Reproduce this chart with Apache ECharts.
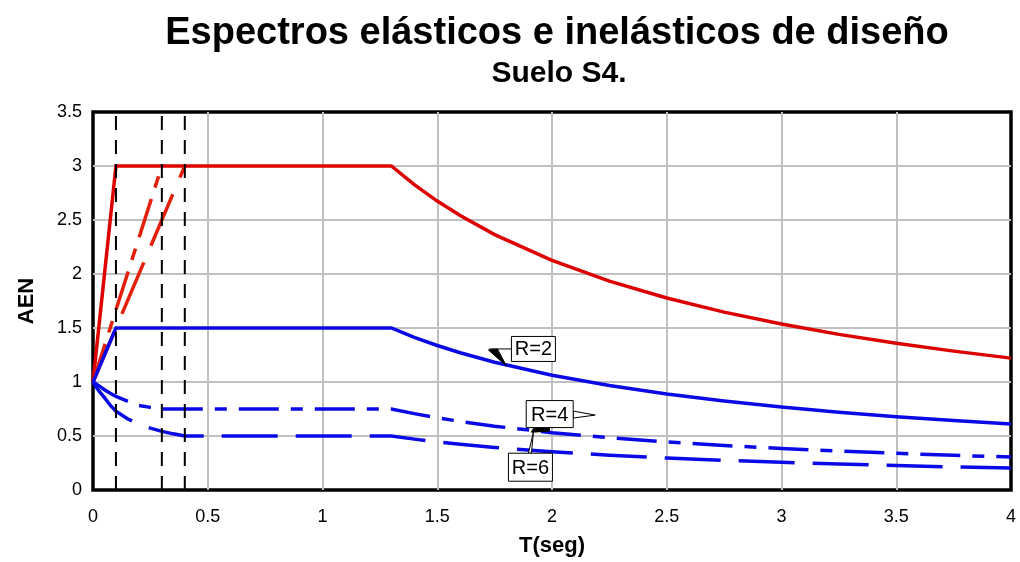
<!DOCTYPE html>
<html>
<head>
<meta charset="utf-8">
<script src="https://cdn.jsdelivr.net/npm/echarts@6/dist/echarts.min.js"></script>
<style>
  html, body { margin: 0; padding: 0; background: #ffffff; }
  #chart { width: 1020px; height: 562px; }
</style>
</head>
<body>
<div id="chart"></div>
<script>
// Ordinate ticks (AEN) and abscissa ticks (T in seconds)
const yTicks = [0, 0.5, 1, 1.5, 2, 2.5, 3, 3.5];
const xTicks = [0, 0.5, 1, 1.5, 2, 2.5, 3, 3.5, 4];

// Short-period limits drawn as vertical reference lines
const periodLimits = [0.1, 0.3, 0.4];

// Rising branches (T, AEN)
const elasticRiseT = [0, 0.1];
const elasticRise = [1, 3];
const elasticRiseT03 = [0, 0.3];
const elasticRise03 = [1, 3];
const elasticRiseT04 = [0, 0.4];
const elasticRise04 = [1, 3];
const r2RiseT = [0, 0.1];
const r2Rise = [1, 1.5];
const r4RiseT = [0, 0.025, 0.05, 0.075, 0.1, 0.15, 0.2, 0.25, 0.3];
const r4Rise = [1, 0.966, 0.928, 0.895, 0.866, 0.823, 0.782, 0.765, 0.75];
const r6RiseT = [0, 0.025, 0.05, 0.075, 0.1, 0.15, 0.2, 0.25, 0.3, 0.35, 0.4];
const r6Rise = [1, 0.92, 0.855, 0.785, 0.73, 0.66, 0.61, 0.573, 0.543, 0.52, 0.5];

// Descending branches, starting at T* = 1.3 s
const decayT = [1.3, 1.4, 1.5, 1.6, 1.75, 2, 2.25, 2.5, 2.75, 3, 3.25, 3.5, 3.75, 4];
const elasticDecay = [3, 2.827, 2.675, 2.541, 2.365, 2.126, 1.934, 1.778, 1.647, 1.537, 1.441, 1.358, 1.286, 1.221];
const r2Decay = [1.5, 1.414, 1.338, 1.271, 1.183, 1.063, 0.967, 0.889, 0.824, 0.768, 0.721, 0.679, 0.643, 0.61];
const r4Decay = [0.75, 0.707, 0.669, 0.635, 0.591, 0.531, 0.484, 0.445, 0.412, 0.384, 0.36, 0.34, 0.321, 0.305];
const r6Decay = [0.5, 0.471, 0.446, 0.424, 0.394, 0.354, 0.322, 0.296, 0.275, 0.256, 0.24, 0.226, 0.214, 0.203];

// Callout labels and the point each one sits at (data coordinates)
const calloutLabels = ['R=2', 'R=4', 'R=6'];
const calloutAnchors = [[1.919, 1.306], [1.99, 0.703], [1.906, 0.211]];

const FONT = "'Liberation Sans', Arial, Helvetica, sans-serif";
const BLUE = '#0a0ae6';
const RED = '#dd0000';
const RED_DASH = '#e4200a';

function zip(ts, vs) { return ts.map((t, i) => [t, vs[i]]); }

function lineSeries(name, data, color, type, width, z) {
  return {
    name: name, type: 'line', data: data, symbol: 'none', silent: true,
    animation: false, z: z || 3,
    lineStyle: { color: color, width: width, type: type, cap: 'butt', join: 'miter' }
  };
}

const series = [
  lineSeries('Elástico', zip(elasticRiseT, elasticRise).concat(zip(decayT, elasticDecay)), RED, 'solid', 3.5),
  lineSeries('Elástico T+=0.3', zip(elasticRiseT03, elasticRise03), RED_DASH, [40, 12, 12, 12], 3.5),
  lineSeries('Elástico T+=0.4', zip(elasticRiseT04, elasticRise04), RED_DASH, [56, 18], 3.5),
  lineSeries('R=2', zip(r2RiseT, r2Rise).concat(zip(decayT, r2Decay)), BLUE, 'solid', 3.5),
  lineSeries('R=4', zip(r4RiseT, r4Rise).concat(zip(decayT, r4Decay)), BLUE, [40, 12, 12, 12], 3.5),
  lineSeries('R=6', zip(r6RiseT, r6Rise).concat(zip(decayT, r6Decay)), BLUE, [56, 18], 3.5)
];
periodLimits.forEach(function (t) {
  series.push(lineSeries('T=' + t, [[t, yTicks[0]], [t, yTicks[yTicks.length - 1]]], '#000000', [14, 10], 2, 4));
});

const chart = echarts.init(document.getElementById('chart'), null, { renderer: 'canvas' });

const option = {
  backgroundColor: '#ffffff',
  animation: false,
  title: [
    {
      text: 'Espectros elásticos e inelásticos de diseño',
      left: 552, top: 10, textAlign: 'center',
      textStyle: { fontFamily: FONT, fontWeight: 'bold', fontSize: 38, color: '#000' }
    },
    {
      text: 'Suelo S4.',
      left: 554, top: 54, textAlign: 'center',
      textStyle: { fontFamily: FONT, fontWeight: 'bold', fontSize: 30, color: '#000' }
    }
  ],
  grid: {
    left: 93, top: 112, width: 918, height: 382,
    show: true, borderColor: '#000000', borderWidth: 3.5, backgroundColor: 'transparent'
  },
  xAxis: {
    type: 'value', min: xTicks[0], max: xTicks[xTicks.length - 1], interval: 0.5,
    name: 'T(seg)', nameLocation: 'middle', nameGap: 45,
    nameTextStyle: { fontFamily: FONT, fontWeight: 'bold', fontSize: 22, color: '#000' },
    axisLine: { show: false }, axisTick: { show: false },
    axisLabel: { margin: 18, fontFamily: FONT, fontSize: 18, color: '#000' },
    splitLine: { show: true, showMinLine: false, showMaxLine: false, lineStyle: { color: '#c0c0c0', width: 2 } }
  },
  yAxis: {
    type: 'value', min: yTicks[0], max: yTicks[yTicks.length - 1], interval: 0.5,
    name: 'AEN', nameLocation: 'middle', nameGap: 55,
    nameTextStyle: { fontFamily: FONT, fontWeight: 'bold', fontSize: 22, color: '#000' },
    axisLine: { show: false }, axisTick: { show: false },
    axisLabel: { margin: 11, fontFamily: FONT, fontSize: 18, color: '#000' },
    splitLine: { show: true, showMinLine: false, showMaxLine: false, lineStyle: { color: '#c0c0c0', width: 2 } }
  },
  series: series
};

chart.setOption(option);

// Callout boxes with their pointer wedges, placed from data anchors
function px(p) { return chart.convertToPixel({ gridIndex: 0 }, p); }
const boxSizes = [[44, 25], [47, 27], [44, 28]];
const graphics = [];
calloutAnchors.forEach(function (a, i) {
  const c = px(a);
  const w = boxSizes[i][0], h = boxSizes[i][1];
  const x0 = c[0] - w / 2, y0 = c[1] - h / 2;
  if (i === 0) {
    graphics.push({ type: 'line', z: 20, shape: { x1: x0 - 22, y1: c[1], x2: x0, y2: c[1] }, style: { stroke: '#000', lineWidth: 1 } });
    graphics.push({ type: 'polygon', z: 21, shape: { points: [[x0 - 23, c[1] + 1], [x0 - 14, c[1]], [x0 - 5, c[1] + 17]] }, style: { fill: '#000', stroke: '#000', lineWidth: 1 } });
  } else if (i === 1) {
    graphics.push({ type: 'polygon', z: 20, shape: { points: [[x0 + w, c[1] - 3], [x0 + w + 22, c[1] + 1], [x0 + w, c[1] + 4]] }, style: { fill: '#fff', stroke: '#000', lineWidth: 1 } });
  } else {
    graphics.push({ type: 'polygon', z: 19, shape: { points: [[c[0] - 2, y0], [c[0] + 1, y0], [c[0] + 3, y0 - 21]] }, style: { fill: '#fff', stroke: '#000', lineWidth: 1 } });
    graphics.push({ type: 'polygon', z: 19, shape: { points: [[c[0] + 1, y0 - 21], [c[0] + 3, y0 - 25], [c[0] + 19, y0 - 25.5], [c[0] + 19, y0 - 22]] }, style: { fill: '#000', stroke: '#000', lineWidth: 1 } });
  }
  graphics.push({ type: 'rect', z: 22, shape: { x: x0, y: y0, width: w, height: h }, style: { fill: '#fff', stroke: '#000', lineWidth: 1 } });
  graphics.push({
    type: 'text', z: 23, x: c[0], y: c[1] + 1,
    style: { text: calloutLabels[i], fontFamily: FONT, fontSize: 20, fill: '#000', textAlign: 'center', textVerticalAlign: 'middle' }
  });
});
chart.setOption({ graphic: graphics });
</script>
</body>
</html>
